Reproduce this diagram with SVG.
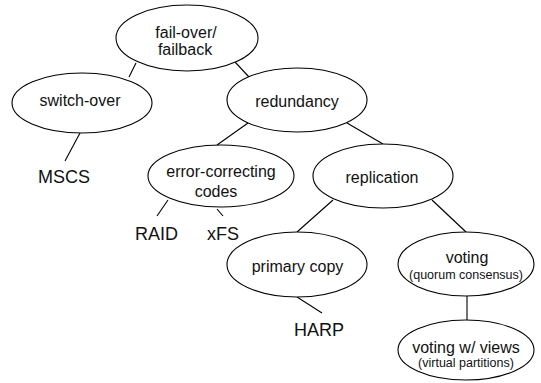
<svg xmlns="http://www.w3.org/2000/svg" width="541" height="383" viewBox="0 0 541 383">
  <style>
    .node ellipse { fill: #ffffff; stroke: #000000; stroke-width: 1.1; }
    .lbl { font-family: "Liberation Sans", Arial, sans-serif; font-size: 16px; fill: #111111; text-anchor: middle; }
    .sub { font-family: "Liberation Sans", Arial, sans-serif; font-size: 12.5px; fill: #111111; text-anchor: middle; }
    .leaf { font-family: "Liberation Sans", Arial, sans-serif; font-size: 18px; fill: #111111; text-anchor: middle; }
    .edges line { stroke: #000000; stroke-width: 1.1; }
  </style>
  <rect width="541" height="383" fill="#ffffff"/>

  <!-- connectors -->
  <g id="connectors" class="edges">
    <line x1="136" y1="63" x2="129" y2="77"/>
    <line x1="235" y1="62" x2="249" y2="77"/>
    <line x1="80" y1="133" x2="65" y2="161"/>
    <line x1="248" y1="123" x2="217" y2="145"/>
    <line x1="347" y1="123" x2="383" y2="144"/>
    <line x1="168" y1="200" x2="157" y2="216"/>
    <line x1="217" y1="209" x2="223" y2="216"/>
    <line x1="333" y1="200" x2="297" y2="232"/>
    <line x1="432" y1="200" x2="466" y2="232"/>
    <line x1="297" y1="297" x2="322" y2="313"/>
    <line x1="467" y1="296" x2="467" y2="320"/>
  </g>

  <!-- nodes -->
  <g id="failover" class="node">
    <ellipse cx="187" cy="38" rx="71" ry="33"/>
    <text class="lbl" x="186" y="38">fail-over/</text>
    <text class="lbl" x="185" y="54.5">failback</text>
  </g>
  <g id="switchover" class="node">
    <ellipse cx="82" cy="103" rx="70" ry="30"/>
    <text class="lbl" x="80" y="106">switch-over</text>
  </g>
  <g id="mscs">
    <text class="leaf" x="64" y="183">MSCS</text>
  </g>
  <g id="redundancy" class="node">
    <ellipse cx="297" cy="100" rx="70" ry="32"/>
    <text class="lbl" x="297" y="107">redundancy</text>
  </g>
  <g id="ecc" class="node">
    <ellipse cx="221" cy="176" rx="73" ry="31"/>
    <text class="lbl" x="221" y="177">error-correcting</text>
    <text class="lbl" x="216" y="197">codes</text>
  </g>
  <g id="raid">
    <text class="leaf" x="156.5" y="240">RAID</text>
  </g>
  <g id="xfs">
    <text class="leaf" x="223" y="240">xFS</text>
  </g>
  <g id="replication" class="node">
    <ellipse cx="383" cy="176" rx="70" ry="32"/>
    <text class="lbl" x="382" y="183">replication</text>
  </g>
  <g id="primarycopy" class="node">
    <ellipse cx="297" cy="264.5" rx="70" ry="32.5"/>
    <text class="lbl" x="297.5" y="272">primary copy</text>
  </g>
  <g id="harp">
    <text class="leaf" x="319" y="336">HARP</text>
  </g>
  <g id="voting" class="node">
    <ellipse cx="466" cy="264" rx="68" ry="32"/>
    <text class="lbl" x="467" y="263">voting</text>
    <text class="sub" x="466" y="279">(quorum consensus)</text>
  </g>
  <g id="votingviews" class="node">
    <ellipse cx="466" cy="350" rx="68" ry="30"/>
    <text class="lbl" x="466" y="353">voting w/ views</text>
    <text class="sub" x="466" y="367">(virtual partitions)</text>
  </g>
</svg>
